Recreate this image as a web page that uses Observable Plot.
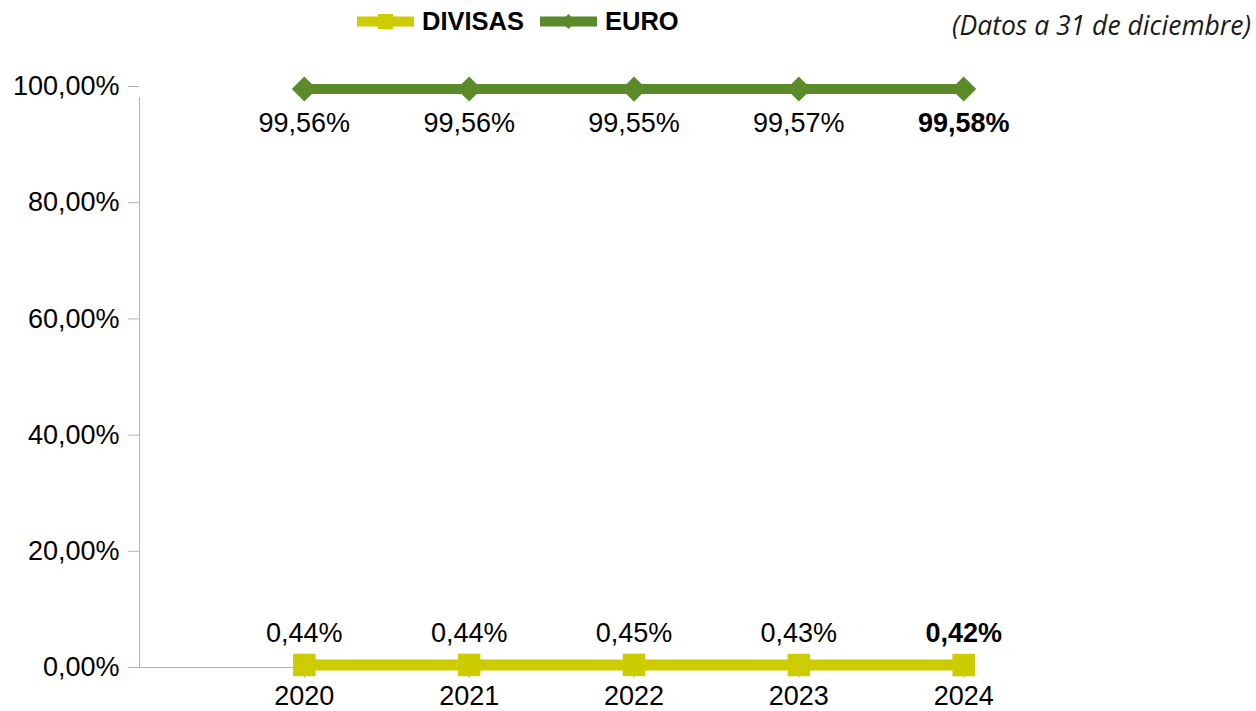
<!DOCTYPE html>
<html>
<head>
<meta charset="utf-8">
<script src="https://cdn.jsdelivr.net/npm/d3@7"></script>
<script src="https://cdn.jsdelivr.net/npm/@observablehq/plot@0.6"></script>
<style>
  html, body { margin: 0; padding: 0; background: #fff; }
  #wrap { position: relative; width: 1256px; height: 711px; font-family: "Liberation Sans", Arial, sans-serif; }
  #legend { position: absolute; left: 357px; top: 7px; display: flex; align-items: center; font-weight: bold; font-size: 25.5px; color: #000; }
  #legend .item { display: flex; align-items: center; margin-right: 16px; }
  #legend svg { margin-right: 8px; }
  #note { position: absolute; right: 5px; top: 7px; font-family: "Open Sans", sans-serif; font-style: italic; font-size: 26.5px; color: #1a1a1a; }
</style>
</head>
<body>
<div id="wrap">
  <div id="legend"></div>
  <div id="note">(Datos a 31 de diciembre)</div>
  <div id="chart"></div>
</div>
<script>
const years = [2020, 2021, 2022, 2023, 2024];
const euro = [99.56, 99.56, 99.55, 99.57, 99.58];
const divisas = [0.44, 0.44, 0.45, 0.43, 0.42];
const yTicks = [0, 20, 40, 60, 80, 100];
const seriesNames = ["DIVISAS", "EURO"];
const seriesColors = ["#cccc00", "#5b8a29"];

const fmt = v => v.toFixed(2).replace(".", ",") + "%";
const euroRows = years.map((y, i) => ({year: y, value: euro[i]}));
const divRows = years.map((y, i) => ({year: y, value: divisas[i]}));
const last = years[years.length - 1];
const axisGray = "#b3b3b3";

// Legend
const legend = document.getElementById("legend");
seriesNames.forEach((name, i) => {
  const item = document.createElement("div");
  item.className = "item";
  const sym = i === 0
    ? `<rect x="21" y="3" width="15" height="15" fill="${seriesColors[i]}"/>`
    : `<path d="M28.5,3 L36,10.5 L28.5,18 L21,10.5Z" fill="${seriesColors[i]}"/>`;
  item.innerHTML = `<svg width="57" height="21"><rect x="0" y="5.5" width="57" height="10" fill="${seriesColors[i]}"/>${sym}</svg><span>${name}</span>`;
  legend.appendChild(item);
});

const chart = Plot.plot({
  width: 1256,
  height: 711,
  marginLeft: 139,
  marginRight: 128,
  marginTop: 86,
  marginBottom: 44,
  style: {fontFamily: "Liberation Sans, Arial, sans-serif", background: "transparent", color: "#000"},
  x: {type: "linear", domain: [2019, 2025]},
  y: {domain: [0, 100]},
  marks: [
    Plot.ruleX([2019], {y1: 0, y2: 100, stroke: axisGray, insetBottom: -11}),
    Plot.ruleY([0], {x1: 2019, x2: last, stroke: axisGray, insetLeft: -11}),
    Plot.axisY(yTicks, {tickSize: 11, tickPadding: 9, tickFormat: fmt, fontSize: 27, stroke: axisGray, fill: "#000", label: null}),
    Plot.axisX(years, {tickSize: 11, tickPadding: 7, tickFormat: d => String(d), fontSize: 27, stroke: axisGray, fill: "#000", label: null}),
    Plot.line(euroRows, {x: "year", y: "value", stroke: seriesColors[1], strokeWidth: 10}),
    Plot.dot(euroRows, {x: "year", y: "value", symbol: "diamond2", r: 11.3, fill: seriesColors[1], stroke: "none"}),
    Plot.line(divRows, {x: "year", y: "value", stroke: seriesColors[0], strokeWidth: 11}),
    Plot.dot(divRows, {x: "year", y: "value", symbol: "square", r: 12.7, fill: seriesColors[0], stroke: "none"}),
    Plot.text(euroRows, {filter: d => d.year !== last, x: "year", y: "value", text: d => fmt(d.value), dy: 34, fontSize: 27, fill: "#000"}),
    Plot.text(euroRows, {filter: d => d.year === last, x: "year", y: "value", text: d => fmt(d.value), dy: 34, fontSize: 27, fontWeight: "bold", fill: "#000"}),
    Plot.text(divRows, {filter: d => d.year !== last, x: "year", y: "value", text: d => fmt(d.value), dy: -32, fontSize: 27, fill: "#000"}),
    Plot.text(divRows, {filter: d => d.year === last, x: "year", y: "value", text: d => fmt(d.value), dy: -32, fontSize: 27, fontWeight: "bold", fill: "#000"})
  ]
});
document.getElementById("chart").appendChild(chart);
</script>
</body>
</html>
